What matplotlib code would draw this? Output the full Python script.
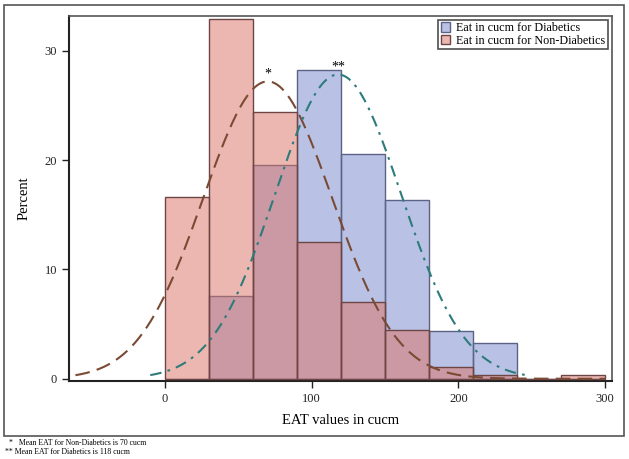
import numpy as np
import matplotlib
matplotlib.use("Agg")
import matplotlib.pyplot as plt
from matplotlib.patches import Rectangle, Patch

# ---- data ----
bin_edges = [0, 30, 60, 90, 120, 150, 180, 210, 240, 270, 300]
diabetic_pct = [0.0, 7.6, 19.55, 28.2, 20.6, 16.35, 4.36, 3.24, 0.0, 0.0]
nondiabetic_pct = [16.65, 32.9, 24.4, 12.5, 7.05, 4.45, 1.1, 0.35, 0.0, 0.37]
diab_mean, diab_sd = 118, 43.0
nond_mean, nond_sd = 70, 44.0
diab_curve_range = (-10, 247)
nond_curve_range = (-61, 300)
legend_labels = ["Eat in cucm for Diabetics", "Eat in cucm for Non-Diabetics"]
x_ticks = [0, 100, 200, 300]
y_ticks = [0, 10, 20, 30]
footnotes = ["*   Mean EAT for Non-Diabetics is 70 cucm",
             "** Mean EAT for Diabetics is 118 cucm"]

plt.rcParams['font.family'] = ['Liberation Serif', 'DejaVu Serif']

fig = plt.figure(figsize=(6.29, 4.59), dpi=100)
ax = fig.add_axes([0.1097, 0.1706, 0.8628, 0.7944])

blue_face = (0x75/255, 0x87/255, 0xCD/255, 0.5)
red_face = (0xDB/255, 0x71/255, 0x63/255, 0.5)
blue_edge = "#5c6485"
red_edge = "#6e4545"

edges = np.array(bin_edges)
widths = np.diff(edges)
ax.bar(edges[:-1], diabetic_pct, width=widths, align='edge',
       color=blue_face, edgecolor=blue_edge, linewidth=1.0, zorder=2)
ax.bar(edges[:-1], nondiabetic_pct, width=widths, align='edge',
       color=red_face, edgecolor=red_edge, linewidth=1.0, zorder=3)

def normal_pct(x, m, s, w=30):
    return 100 * w * np.exp(-0.5 * ((x - m) / s) ** 2) / (s * np.sqrt(2 * np.pi))

xn = np.linspace(*nond_curve_range, 400)
ax.plot(xn, normal_pct(xn, nond_mean, nond_sd), color="#7a4a35", lw=1.5,
        dashes=(7, 3.5), zorder=4)
xd = np.linspace(*diab_curve_range, 400)
ax.plot(xd, normal_pct(xd, diab_mean, diab_sd), color="#2e7b7b", lw=1.5,
        dashes=(5.5, 3, 1.3, 3), zorder=4)

ax.text(nond_mean, normal_pct(nond_mean, nond_mean, nond_sd) + 0.1, "*",
        ha='center', va='bottom', fontsize=10, zorder=5)
ax.text(diab_mean, normal_pct(diab_mean, diab_mean, diab_sd) + 0.1, "**",
        ha='center', va='bottom', fontsize=10, zorder=5)

ax.set_xlim(-65.4, 304.5)
ax.set_ylim(-0.18, 33.18)
ax.set_xticks(x_ticks)
ax.set_yticks(y_ticks)
ax.tick_params(direction='out', length=5, width=1, labelsize=9, colors='#222222')
for s in ['top', 'right']:
    ax.spines[s].set_color('#555555')
    ax.spines[s].set_linewidth(1.2)
for s in ['left', 'bottom']:
    ax.spines[s].set_color('#222222')
    ax.spines[s].set_linewidth(1.5)
ax.set_xlabel("EAT values in cucm", fontsize=10.5, labelpad=7)
ax.set_ylabel("Percent", fontsize=10.5, labelpad=10)

handles = [Patch(facecolor=blue_face, edgecolor=blue_edge),
           Patch(facecolor=red_face, edgecolor=red_edge)]
leg = ax.legend(handles, legend_labels, loc='upper right', fontsize=8.7,
                frameon=True, fancybox=False, borderaxespad=0.3,
                handlelength=0.8, handleheight=0.8, handletextpad=0.5,
                borderpad=0.2, labelspacing=0.05)
leg.get_frame().set_edgecolor('#222222')
leg.get_frame().set_linewidth(1.2)

fig.patches.append(Rectangle((0.0064, 0.0501), 0.9857, 0.939, transform=fig.transFigure,
                             fill=False, edgecolor='#555555', linewidth=1.2))

fig.text(0.015, 1 - 443/459, footnotes[0], fontsize=5.6, va='center', ha='left')
fig.text(0.008, 1 - 452/459, footnotes[1], fontsize=5.6, va='center', ha='left')

fig.savefig("out.png", dpi=100)
